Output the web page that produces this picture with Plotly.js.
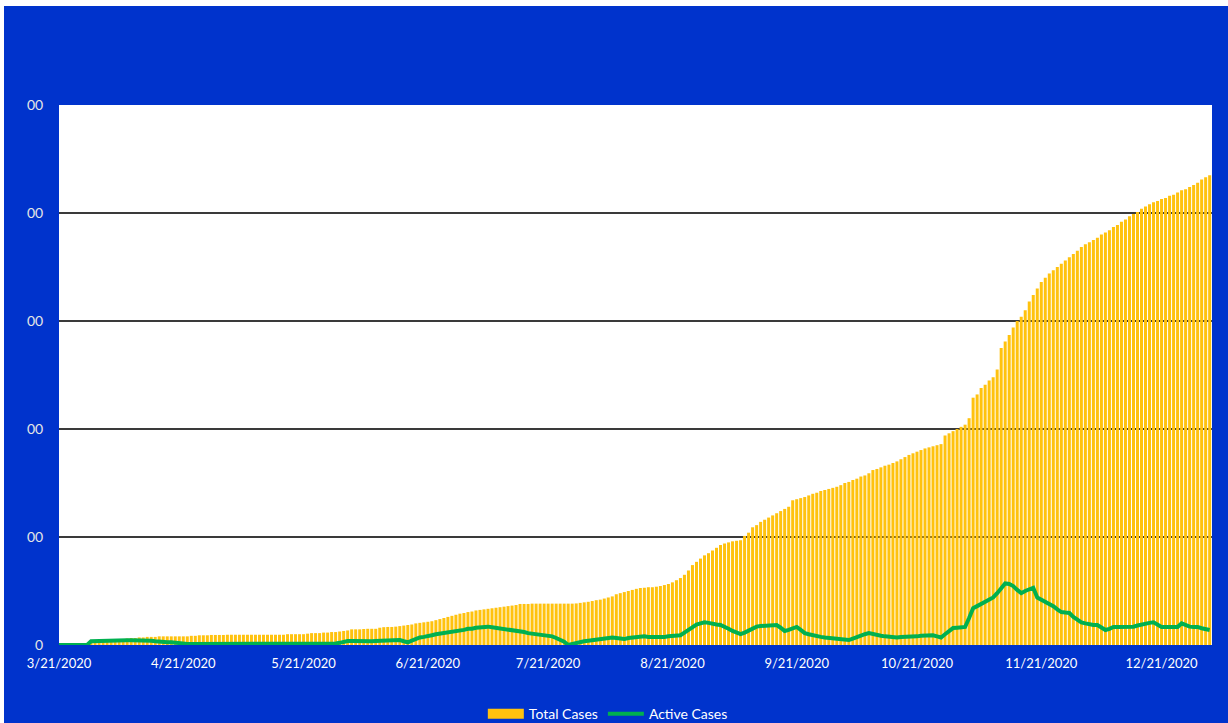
<!DOCTYPE html>
<html>
<head>
<meta charset="utf-8">
<script src="https://cdn.plot.ly/plotly-3.0.1.min.js"></script>
<style>
  html, body { margin: 0; padding: 0; background: #ffffff; }
  #chart { position: absolute; left: 4px; top: 6px; width: 1224px; height: 717px; }
</style>
</head>
<body>
<div id="chart"></div>
<script>
// ---- data (y in grid units of 100 per gridline) ----
const startDate = '2020-03-21';

const totalCases = [
  0,0,0,0,0.5,0.5,1,1,
  2,2,3,3,4,4,5,5,
  5,6,6.5,6.5,7,7,
  7.5,7.5,7.5,8,8,8,8,8,8,
  8,8,8.5,8.5,9,9,9,
  9.3,9.3,9.3,9.3,9.5,9.5,9.5,9.5,9.5,9.5,9.5,9.5,
  9.5,9.5,9.5,9.5,9.5,9.5,9.5,10,10,10,10,10,10.5,
  11,11,11,11.5,11.5,
  12,12,12.5,13,13.5,
  14.5,14.5,14.5,14.8,15,15,
  15,16,16.5,16.7,16.7,
  17,17.5,18,18.5,19,
  20,20.5,21,21.5,22,
  23,24,25,26,
  27,28,29,29.6,
  30.5,31,32,32.5,33,
  33.5,34,34.5,35,
  35.5,36,36.5,37,38,
  38,38,38.3,38.3,38.3,38.3,38.3,38.3,38.3,38.3,38.3,38.3,38.3,
  38.5,39,39.5,40,40.7,
  41.5,42,43,44,45,47,
  48,49,50,51,52,52.8,
  53,53.5,53.5,54,54.6,
  55.5,56.5,58,60,62,
  65,69,74,
  77,80,83,
  85,87.5,90,92.6,
  94,95,96,96.5,97,
  101,104,109,
  111,114,116,118,120,
  122,124,126,128,134,
  135,136,137,
  138.5,140,141,142.6,
  143.5,144.5,145.5,146.5,148,
  150,151,152.8,
  154,156,157,159,162,
  163,164.5,166,167,168.5,
  170,172,174,176,
  177.5,179,180.5,182,
  183,184,185,186,
  194,196,198,
  200,202,204,210,
  229,232,238,
  241,245,248,255,
  275,281,287,294,
  300,304,
  310,318,324,
  330,336,
  340,344,347,350,
  353,356,359,
  362,365,368.5,
  371,373,375,377,
  380,382,384,
  387,389,392,
  394,397,399,401,
  404,406,408,410,
  411,413,414,416,417,419,
  421,422,424,426,
  428,431,433,435
];

const activeCases = [
  0,0,0,0,0,0,0,0,
  3.5,3.7,3.7,3.7,4,4,4,4,
  5,4.5,4.5,4.5,4.5,4,4,4,3.5,
  3,3,2.5,2.5,2,2,1.5,
  1,1,1,1,1,1,1,1,1,1,1,1,1,1,1,1,1,1,
  1,1,1,1,1,1,1,1,1,1,1,1,1,1,1,1,1,1,
  1,1.5,2,3,
  3.7,3.7,3.5,3.7,4,3.7,3.5,3.7,4,
  4,4.3,4.6,4.6,4.6,3.5,
  2.5,4,5.5,
  7,7.5,8,9,10,10.5,
  11,12,12.5,13,13.5,14,15,15,16,16.5,
  16.7,17,16.5,16,15.5,15,14,13.5,
  13,12.5,12,11,10.5,10,9.5,
  9,8.5,8,6.5,4.6,3,
  0,1,
  2,3,3.5,4,4.5,5,5,
  5.5,6,7,6.5,6,
  5.5,6.5,7,7.5,
  8,8,7.5,7.5,7,
  7,7.5,8,8.5,8.5,
  9,11.5,14,
  16.7,19,20,
  21,20.5,19.5,19,
  18.5,17,15,13,11,
  10,11.5,13.5,15.5,17,
  17.6,18,18,18.5,18.5,16,
  13,14,15.5,
  16.7,14,
  11,10,9,8,7.5,
  7,6.5,6,6,5.5,5,
  4.6,6,7.5,9,10,
  11,10,9,8.5,8,7.5,
  7,7,7.5,7.5,8,7.5,8,8.5,8.5,9,
  9,8,7,10,13,
  15.7,16,16,16.7,25,
  34,36,38,40,42,
  44,48,52,
  57,56.5,54.6,51,
  48,50,52,53,
  44,42,40,
  39,36,33,
  30.5,30,29.6,26,23,
  21,20,19,18.5,
  18.5,16,13.9,15,
  16.7,16.7,16.7,16.7,16.7,
  17,18,19,20,20.5,
  21,19,
  16.7,16.7,16.7,16.7,16.7,
  20,18.5,17,16.7,
  16.7,15.5,15,13.9
];

const tickDates = ['2020-03-21','2020-04-21','2020-05-21','2020-06-21','2020-07-21',
                   '2020-08-21','2020-09-21','2020-10-21','2020-11-21','2020-12-21'];
const tickLabels = ['3/21/2020','4/21/2020','5/21/2020','6/21/2020','7/21/2020',
                    '8/21/2020','9/21/2020','10/21/2020','11/21/2020','12/21/2020'];
const yTickVals = [0, 100, 200, 300, 400, 500];
const yTickText = ['0', '00', '00', '00', '00', '00'];

if (totalCases.length !== 288 || activeCases.length !== 288) {
  throw new Error('length mismatch ' + totalCases.length + ' ' + activeCases.length);
}

// dates: one per day from startDate
const dates = [];
const d0 = new Date(startDate + 'T00:00:00Z');
for (let i = 0; i < totalCases.length; i++) {
  const d = new Date(d0.getTime() + i * 86400000);
  dates.push(d.toISOString().slice(0, 10));
}
const lastDate = dates[dates.length - 1];

const BAR_COLOR = '#FFC20E';

const traces = [
  {
    type: 'bar', name: 'Total Cases', x: dates, y: totalCases,
    marker: { color: BAR_COLOR, line: { width: 0 } },
    showlegend: false, legendgroup: 'total',
    hoverinfo: 'x+y'
  },
  {
    // legend-only entry drawn as a wide yellow swatch, like the reference legend key
    type: 'scatter', mode: 'lines', name: 'Total Cases', x: [null], y: [null],
    line: { color: BAR_COLOR, width: 10 }, legendgroup: 'total',
    hoverinfo: 'skip'
  },
  {
    type: 'scatter', mode: 'lines', name: 'Active Cases', x: dates, y: activeCases,
    line: { color: '#00B050', width: 4 },
    hoverinfo: 'x+y'
  }
];

const layout = {
  width: 1224, height: 717,
  paper_bgcolor: '#0033CC',
  plot_bgcolor: '#FFFFFF',
  margin: { l: 55, r: 16, t: 99, b: 78, autoexpand: false },
  font: { family: 'Lato, "Liberation Sans", sans-serif', color: '#FFFFFF', size: 12 },
  bargap: 0.25,
  showlegend: true,
  legend: {
    orientation: 'h', x: 0.476, xanchor: 'center', y: -0.128, yanchor: 'middle',
    font: { color: '#FFFFFF', size: 14 }, bgcolor: 'rgba(0,0,0,0)', traceorder: 'normal',
    itemwidth: 36
  },
  xaxis: {
    type: 'date',
    range: [startDate + ' 00:00', lastDate + ' 14:00'],
    tickmode: 'array', tickvals: tickDates, ticktext: tickLabels,
    showgrid: false, zeroline: false, showline: false,
    ticks: 'outside', ticklen: 6, tickcolor: 'rgba(0,0,0,0)',
    tickfont: { color: '#FFFFFF', size: 13 }
  },
  yaxis: {
    range: [0, 500],
    tickmode: 'array', tickvals: yTickVals, ticktext: yTickText,
    showgrid: true, gridcolor: '#3A3A3A', gridwidth: 1.5,
    zeroline: false, showline: false,
    ticks: 'outside', ticklen: 12, tickcolor: 'rgba(0,0,0,0)',
    tickfont: { color: '#E6E6E6', size: 14 }
  }
};

Plotly.newPlot('chart', traces, layout, { displayModeBar: false, staticPlot: true });
</script>
</body>
</html>
